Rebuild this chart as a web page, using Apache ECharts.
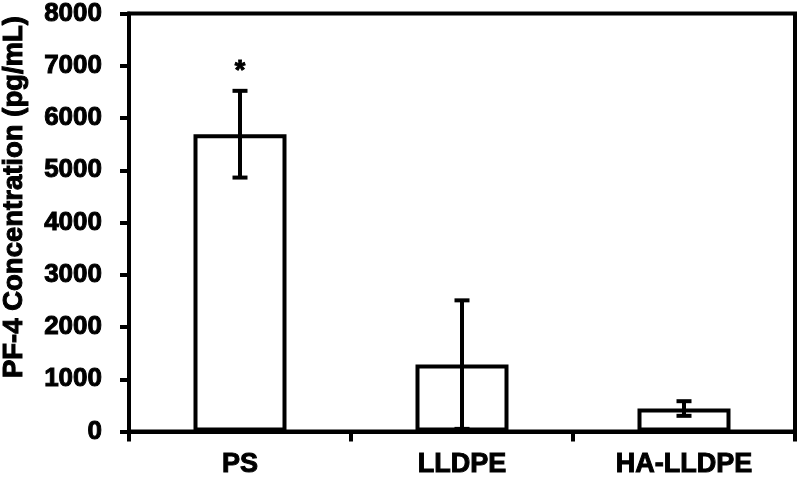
<!DOCTYPE html>
<html>
<head>
<meta charset="utf-8">
<script src="https://cdn.jsdelivr.net/npm/echarts@6/dist/echarts.min.js"></script>
<style>
html,body{margin:0;padding:0;background:#fff;}
#chart{width:800px;height:479px;}
</style>
</head>
<body>
<div id="chart"></div>
<script>
var categories = ['PS', 'LLDPE', 'HA-LLDPE'];
var means = [5690, 1280, 440];
var errors = [830, 1230, 140];
var marks = ['*', '', ''];
var yTicks = [0, 1000, 2000, 3000, 4000, 5000, 6000, 7000, 8000];
var yTitle = 'PF-4 Concentration (pg/mL)';

var FONT = '"Liberation Sans", Arial, Helvetica, sans-serif';
var chart = echarts.init(document.getElementById('chart'), null, {renderer: 'canvas'});

var errData = categories.map(function (c, i) {
  return [i, means[i] - errors[i], means[i] + errors[i], marks[i]];
});

chart.setOption({
  animation: false,
  backgroundColor: '#fff',
  grid: {
    left: 129, right: 5, top: 13, bottom: 47,
    show: true, borderColor: '#000', borderWidth: 4, backgroundColor: 'transparent'
  },
  graphic: [{
    type: 'text',
    x: 14, y: 197,
    rotation: Math.PI / 2,
    style: {
      text: yTitle,
      font: 'bold 27.5px ' + FONT,
      fill: '#000',
      stroke: '#000',
      lineWidth: 1,
      align: 'center',
      verticalAlign: 'middle'
    }
  }],
  xAxis: {
    type: 'category',
    data: categories,
    boundaryGap: true,
    axisLine: {show: true, lineStyle: {color: '#000', width: 4}},
    axisTick: {show: true, length: 10, inside: false, alignWithLabel: false, lineStyle: {color: '#000', width: 4}},
    axisLabel: {
      color: '#000', fontSize: 27, fontWeight: 'bold', fontFamily: FONT, margin: 20,
      textBorderColor: '#000', textBorderWidth: 1
    },
    splitLine: {show: false}
  },
  yAxis: {
    type: 'value',
    min: yTicks[0],
    max: yTicks[yTicks.length - 1],
    interval: yTicks[1] - yTicks[0],
    axisLine: {show: true, lineStyle: {color: '#000', width: 4}},
    axisTick: {show: true, length: 9, inside: false, lineStyle: {color: '#000', width: 4}},
    axisLabel: {
      color: '#000', fontSize: 26, fontWeight: 'bold', fontFamily: FONT, margin: 27,
      textBorderColor: '#000', textBorderWidth: 1,
      formatter: function (v) { return String(v); }
    },
    splitLine: {show: false}
  },
  series: [{
    type: 'bar',
    data: means,
    barWidth: 93,
    itemStyle: {color: '#fff', borderColor: '#000', borderWidth: 4},
    z: 2
  }, {
    type: 'custom',
    data: errData,
    z: 5,
    renderItem: function (params, api) {
      var x = api.value(0);
      var lo = api.coord([x, api.value(1)]);
      var hi = api.coord([x, api.value(2)]);
      var cap = 7.5;
      var st = {stroke: '#000', lineWidth: 4};
      var children = [
        {type: 'line', shape: {x1: lo[0], y1: lo[1], x2: hi[0], y2: hi[1]}, style: st},
        {type: 'line', shape: {x1: lo[0] - cap, y1: lo[1], x2: lo[0] + cap, y2: lo[1]}, style: st},
        {type: 'line', shape: {x1: hi[0] - cap, y1: hi[1], x2: hi[0] + cap, y2: hi[1]}, style: st}
      ];
      var m = api.value(3);
      if (m) {
        children.push({
          type: 'text',
          x: hi[0], y: hi[1] - 6,
          style: {text: m, font: 'bold 27px ' + FONT, fill: '#000', stroke: '#000', lineWidth: 1, align: 'center', verticalAlign: 'bottom'}
        });
      }
      return {type: 'group', children: children};
    }
  }]
});
</script>
</body>
</html>
